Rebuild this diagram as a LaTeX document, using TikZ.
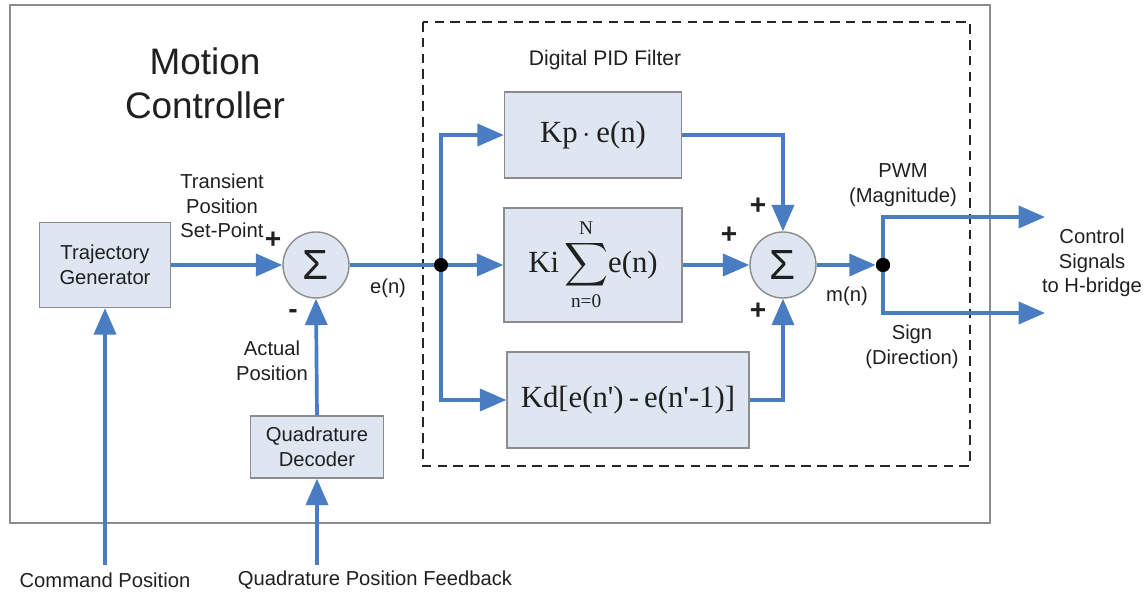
\documentclass[tikz,border=0pt]{standalone}
\usepackage{amsmath}
\usepackage{fontspec}
\setmainfont{Liberation Sans}
\newfontfamily\seriffont{Liberation Serif}
\usetikzlibrary{arrows.meta}
\definecolor{lineblue}{HTML}{4A7CC2}
\definecolor{boxfill}{HTML}{DDE6F1}
\definecolor{boxborder}{HTML}{8C8C8C}
\definecolor{txt}{HTML}{202020}
\begin{document}
\begin{tikzpicture}[x=0.02cm,y=-0.02cm,
  sig/.style={draw=lineblue, line width=2.1pt, -{Triangle[length=15pt,width=12.5pt]}},
  wire/.style={draw=lineblue, line width=2.1pt},
  blk/.style={draw=boxborder, fill=boxfill, line width=0.8pt, inner sep=0pt, align=center, font=\fontsize{11.5}{14}\selectfont, text=txt},
  sumnode/.style={circle, draw=boxborder, fill=boxfill, line width=0.8pt, minimum size=1.32cm, inner sep=0pt, font=\fontsize{24}{26}\selectfont, text=txt},
  dotnode/.style={circle, fill=black, minimum size=0.28cm, inner sep=0pt},
  lbl/.style={align=center, font=\fontsize{11.5}{14}\selectfont, text=txt, inner sep=0pt},
  sgn/.style={font=\fontsize{16}{17}\selectfont\bfseries, text=txt, inner sep=0pt},
  frm/.style={font=\fontsize{17.5}{20}\seriffont, text=txt}
]
\useasboundingbox (0,0) rectangle (1147,594);
\fill[white] (0,0) rectangle (1147,594);

% outer box and dashed PID box
\draw[boxborder, line width=0.8pt] (10,5) rectangle (990,523);
\draw[black!85, line width=1.2pt, dash pattern=on 5.5pt off 3.5pt] (423,22) rectangle (970,466);

% titles
\node[lbl, font=\fontsize{21}{25}\selectfont] (title) at (205,83) {Motion\\Controller};
\node[lbl, font=\fontsize{12}{14}\selectfont] (pidtitle) at (605,60) {Digital PID Filter};

% blocks
\node[blk, minimum width=2.62cm, minimum height=1.70cm] (tg) at (105,265) {Trajectory\\Generator};
\node[blk, minimum width=2.66cm, minimum height=1.24cm] (qd) at (317,447) {Quadrature\\Decoder};
\node[sumnode] (s1) at (316,265) {Σ};
\node[sumnode] (s2) at (783,265) {Σ};
\node[blk, frm, minimum width=3.54cm, minimum height=1.72cm] (kp) at (593,135) {Kp\,$\cdot$\,e(n)};
\node[blk, frm, minimum width=3.56cm, minimum height=2.28cm] (ki) at (593,265)
  {Ki\,$\displaystyle\sum_{\mbox{\fontsize{11}{12}\seriffont n=0}}^{\mbox{\fontsize{11}{12}\seriffont N}}$e(n)};
\node[blk, frm, minimum width=4.84cm, minimum height=1.92cm] (kd) at (628,400) {Kd[e(n\char"27)\,-\,e(n\char"27-1)]};

% free ends
\coordinate (cmd) at (105,565);
\coordinate (fb) at (317,565);
\coordinate (pwm) at (1045,217);
\coordinate (sgnout) at (1045,313);
\coordinate (j1c) at (441,265);

% connectors
\draw[sig] (tg.east) -- (s1.west);
\draw[wire] (s1.east) -- (j1c);
\draw[sig] (j1c) -- (ki.west);
\draw[sig] (j1c) |- (kp.west);
\draw[sig] (j1c) |- (kd.west);
\draw[sig] (kp.east) -| (s2.north);
\draw[sig] (kd.east) -| (s2.south);
\draw[sig] (ki.east) -- (s2.west);
\node[dotnode] (j2) at (883,265) {};
\draw[sig] (s2.east) -- (j2);
\draw[sig] (j2.center) |- (pwm);
\draw[sig] (j2.center) |- (sgnout);
\draw[sig] (qd.north) -- (s1.south);
\draw[sig] (cmd) -- (tg.south);
\draw[sig] (fb) -- (qd.south);
\node[dotnode] (j1) at (j1c) {};
\node[dotnode] (j2b) at (883,265) {};

% labels
\node[lbl] (tps) at (222,206) {Transient\\Position\\Set-Point};
\node[lbl] (en) at (388,288) {e(n)};
\node[lbl] (ap) at (272,361) {Actual\\Position};
\node[lbl] (mn) at (847,296) {m(n)};
\node[lbl] (pwml) at (903,185) {PWM\\(Magnitude)};
\node[lbl] (sgnl) at (912,347) {Sign\\(Direction)};
\node[lbl] (ctl) at (1092,263) {Control\\Signals\\to H-bridge};
\node[lbl] (cmdl) at (105,580) {Command Position};
\node[lbl] (fbl) at (375,580) {Quadrature Position Feedback};

% signs
\node[sgn] (p1) at (273,240) {+};
\node[sgn] (m1) at (293,314) {-};
\node[sgn] (p2) at (758,206) {+};
\node[sgn] (p3) at (729,235) {+};
\node[sgn] (p4) at (758,311) {+};
\end{tikzpicture}
\end{document}
